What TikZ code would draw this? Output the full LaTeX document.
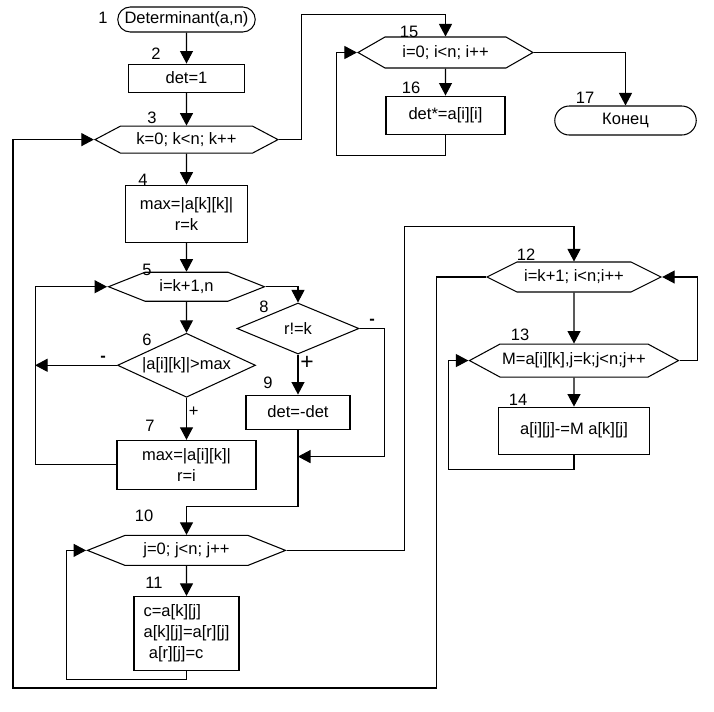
\documentclass[tikz,border=0pt]{standalone}
\usepackage{fontspec}
\setmainfont{Liberation Sans}
\usetikzlibrary{arrows.meta,positioning,shapes.geometric,shapes.misc,shapes.symbols}
\newcommand{\flowfont}{\fontsize{9.4}{12}\selectfont}
\tikzset{
  procbox/.style={draw, align=center, inner sep=1pt, font=\flowfont},
  loopbox/.style={draw, signal, signal to=west and east, inner sep=1pt, font=\flowfont},
  condbox/.style={draw, diamond, inner sep=0pt, font=\flowfont},
  termbox/.style={draw, rounded rectangle, inner sep=1pt, font=\flowfont},
  numlbl/.style={inner sep=0pt, font=\flowfont},
  signlbl/.style={inner sep=1pt, font=\flowfont},
  arrow/.style={-{Triangle[length=2.5mm,width=2.6mm]}}
}

\begin{document}
\begin{tikzpicture}[line width=0.6pt]
  \useasboundingbox (0,0) rectangle (14.28,-14.22);

  \node[termbox, minimum width=2.82cm, minimum height=0.5cm] (n1) at (3.73,-0.39) {Determinant(a,n)};
  \node[procbox, minimum width=2.32cm, minimum height=0.56cm, below=0.62cm of n1] (n2) {det=1};
  \node[loopbox, minimum width=3.66cm, minimum height=0.54cm, signal pointer angle=55.8, below=0.66cm of n2] (n3) {k=0; k<n; k++};
  \node[procbox, minimum width=2.44cm, minimum height=1.14cm, below=0.62cm of n3] (n4) {max=|a[k][k]|\\r=k};
  \node[loopbox, minimum width=3.12cm, minimum height=0.58cm, signal pointer angle=43.3, below=0.58cm of n4] (n5) {i=k+1,n};
  \node[condbox, aspect=2.16, minimum width=2.76cm, minimum height=1.28cm, below=0.62cm of n5] (n6) {|a[i][k]|>max};
  \node[procbox, minimum width=2.78cm, minimum height=0.98cm, below=0.84cm of n6] (n7) {max=|a[i][k]|\\r=i};
  \node[loopbox, minimum width=3.96cm, minimum height=0.6cm, signal pointer angle=43.6, below=0.9cm of n7] (n10) {j=0; j<n; j++};
  \node[procbox, align=left, minimum width=2.1cm, minimum height=1.48cm, below=0.6cm of n10] (n11) {c=a[k][j]\\a[k][j]=a[r][j]\\\hspace*{3pt}a[r][j]=c};

  \node[condbox, aspect=2.4, minimum width=2.44cm, minimum height=1.02cm] (n8) at (5.96,-6.57) {r!=k};
  \node[procbox, minimum width=2.08cm, minimum height=0.68cm, below=0.8cm of n8] (n9) {det=-det};

  \node[loopbox, minimum width=3.48cm, minimum height=0.6cm, signal pointer angle=53.1] (n12) at (11.48,-5.54) {i=k+1; i<n;i++};
  \node[loopbox, minimum width=4.18cm, minimum height=0.66cm, signal pointer angle=56.8, below=1.02cm of n12] (n13) {M=a[i][k],j=k;j<n;j++};
  \node[procbox, minimum width=3.02cm, minimum height=0.94cm, below=0.58cm of n13] (n14) {a[i][j]-=M a[k][j]};

  \node[loopbox, minimum width=3.5cm, minimum height=0.62cm, signal pointer angle=59.7] (n15) at (8.91,-1.05) {i=0; i<n; i++};
  \node[procbox, minimum width=2.38cm, minimum height=0.76cm, below=0.54cm of n15] (n16) {det*=a[i][i]};
  \node[termbox, minimum width=2.9cm, minimum height=0.58cm] (n17) at (12.51,-2.41) {Конец};

  \foreach \n/\x/\y in {1/103/18, 2/156/54, 3/152/118, 4/143/180, 5/147/270, 6/147/340, 7/150/426, 8/264/307, 9/268/383, 10/144/516, 11/154/583, 12/526/255, 13/520/335, 14/518/400, 15/409/32, 16/411/88, 17/585/98}
    \node[numlbl] (num\n) at (\x*0.02, -\y*0.02) {\n};

  \foreach \a/\b in {n1/n2,n2/n3,n3/n4,n4/n5,n5/n6,n10/n11,n12/n13,n13/n14,n15/n16}
    \draw[arrow] (\a) -- (\b);

  \coordinate (jl) at ([xshift=-1.44cm]n5.west);
  \coordinate (j9) at ([yshift=-0.54cm]n9.south);
  \coordinate (bot) at (0.26,-13.76);

  \draw[arrow] (n3.east) -- ++(0.44,0) |- ([yshift=0.44cm]n15.north) -- (n15.north);
  \draw[arrow] (n15.east) -| (n17.north);
  \draw[arrow] (n16.south) -- ++(0,-0.42) -| ([xshift=-0.4cm]n15.west) -- (n15.west);

  \draw[arrow] (n5.east) -| (n8.north);
  \draw[arrow] (n6.west) -- node[signlbl, above=1pt, pos=0.17] {\textbf{-}} (n6.west -| jl);
  \draw[arrow] (n6.south) -- node[signlbl, right, pos=0.32] {+} (n7.north);
  \draw[arrow] (n7.west) -| (jl) -- (n5.west);

  \draw[arrow] (n8.south) -- node[signlbl, right, pos=0.22, font=\fontsize{13}{13}\selectfont] {+} (n9.north);
  \draw[arrow] (n8.east) -- node[signlbl, above=1pt] {\textbf{-}} ++(0.5,0) |- (j9);
  \draw[arrow] (n9.south) -- ++(0,-1.54) -| (n10.north);

  \draw[arrow] (n11.south) -- ++(0,-0.18) -| ([xshift=-0.4cm]n10.west) -- (n10.west);
  \draw[arrow] (n10.east) -- ++(2.36,0) |- ([yshift=0.7cm]n12.north) -- (n12.north);

  \draw[arrow] (n13.east) -- ++(0.36,0) |- (n12.east);
  \draw[arrow] (n14.south) -- ++(0,-0.3) -| ([xshift=-0.4cm]n13.west) -- (n13.west);
  \draw[arrow] (n12.west) -- ++(-0.98,0) |- (bot) |- (n3.west);
\end{tikzpicture}
\end{document}
